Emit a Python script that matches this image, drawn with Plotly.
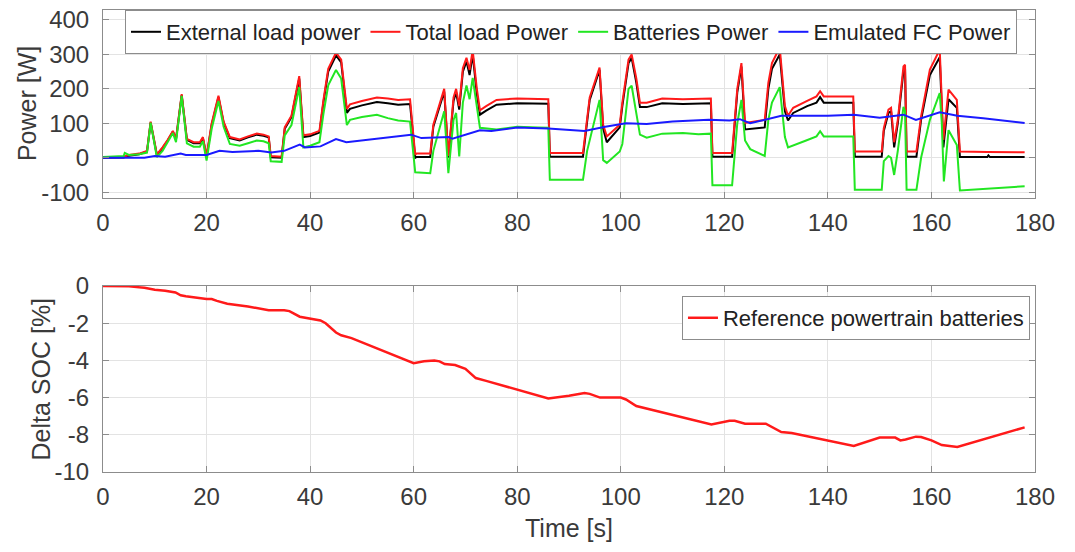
import plotly.graph_objects as go

# ---- Power profile (top panel) ----
# time stamps shared by the external-load and total-load traces [s]
t_load = [0, 4, 5, 7, 8.5, 9.2, 10.4, 11.5, 12.5, 13.5, 14.1, 15.2, 16.2, 17.5, 18.7, 19.3,
          20.0, 21.0, 22.3, 23.3, 24.5, 26.4, 28, 29.7, 31.0, 32.0, 32.4, 34.5, 35.1, 36.4,
          37.9, 38.7, 40, 41.8, 42.6, 43.5, 45.0, 46.0, 47.1, 47.7, 50, 52.9, 55, 57, 59.3,
          60.3, 60.5, 63.2, 63.8, 65.9, 66.7, 67.7, 68.2, 68.8, 69.5, 70.2, 70.8, 71.4, 72.2,
          72.8, 74, 76, 80, 84, 86.0, 86.3, 92.7, 94, 95.9, 96.6, 97.3, 99.8, 100.3, 101.5,
          102.1, 103.0, 103.7, 105, 108, 112, 115, 117.4, 117.7, 121.5, 122.5, 123.3, 124.0,
          127.8, 128.5, 129.2, 130.7, 131.7, 132.3, 133.3, 136, 137.8, 138.5, 139.2, 142,
          144.9, 145.2, 150.4, 150.8, 151.7, 152.2, 152.8, 153.5, 154.6, 154.9, 155.2, 157.1,
          158.0, 159.7, 161.6, 162.3, 163.3, 164.9, 165.5, 170.8, 171.0, 171.3, 178]

p_total = [2, 3, 8, 12, 20, 105, 10, 30, 52, 78, 55, 185, 55, 45, 45, 60,
           5, 100, 180, 105, 60, 53, 62, 70, 67, 62, 5, 3, 88, 122,
           237, 65, 68, 78, 170, 258, 305, 285, 142, 155, 165, 175, 172, 168, 170,
           8, 12, 12, 96, 200, 5, 175, 200, 150, 260, 290, 255, 312, 200,
           138, 150, 168, 172, 170, 170, 14, 14, 175, 262, 96, 62, 96, 160, 285,
           300, 230, 160, 160, 172, 170, 172, 172, 14, 14, 200, 275, 101,
           110, 217, 275, 320, 150, 122, 145, 165, 178, 193, 178, 178,
           178, 18, 18, 86, 140, 145, 45, 110, 265, 270, 18, 18,
           120, 256, 314, 52, 198, 168, 18, 17, 17, 17, 16]

p_external = [0, 1, 6, 10, 18, 102, 8, 28, 50, 76, 53, 182, 52, 42, 42, 57,
              2, 97, 176, 101, 57, 50, 59, 67, 64, 59, 1, 0, 84, 118,
              230, 60, 63, 73, 163, 250, 297, 277, 130, 142, 152, 162, 158, 154, 156,
              0, 2, 2, 90, 192, 0, 165, 190, 140, 250, 280, 240, 300, 185,
              125, 137, 154, 158, 156, 157, 3, 3, 168, 255, 85, 45, 88, 150, 275,
              290, 218, 147, 147, 158, 156, 158, 158, 3, 3, 190, 265, 82,
              88, 200, 258, 300, 135, 108, 130, 150, 160, 176, 160, 160,
              160, 3, 3, 78, 130, 135, 30, 100, 252, 258, 3, 3,
              110, 240, 292, 30, 170, 145, 2, 2, 7, 2, 2]

t_batt = [0, 4, 4.2, 5, 7, 8.5, 9.2, 10.4, 11.5, 12.5, 13.5, 14.1, 15.2, 16.2, 17.5, 18.7,
          19.3, 20, 21, 22.3, 23.3, 24.5, 26.4, 28, 29.7, 31, 32, 32.4, 34.5, 35.1, 36.4,
          37.9, 38.7, 40, 41.8, 42.6, 43.5, 45, 46, 47.1, 47.7, 50, 52.9, 55, 57, 59.3,
          60.3, 63.2, 63.8, 65.9, 66.7, 67.7, 68.2, 68.8, 69.5, 70.2, 70.8, 71.4, 72.2, 72.8,
          76, 80, 84, 86, 86.3, 92.7, 93.5, 95.9, 96.6, 97.3, 99.8, 100.3, 101.5, 102.1,
          103.7, 105, 108, 112, 115, 117.4, 117.7, 121.5, 122.5, 123.3, 124, 125, 127.8,
          128.5, 129.2, 130.7, 131.7, 132.3, 135.8, 137.8, 138.5, 139.2, 144.9, 145.2, 150.4,
          150.8, 151.7, 152.2, 152.8, 153.5, 154.6, 154.9, 155.2, 157.1, 158, 159.7, 161.6,
          162.0, 162.4, 163.3, 164.9, 165.5, 178]

p_batt = [2, 5, 14, 8, 10, 15, 102, 2, 20, 45, 72, 45, 180, 42, 32, 32,
          48, -8, 85, 165, 90, 40, 35, 42, 50, 48, 42, -10, -12, 65, 95,
          205, 30, 35, 45, 130, 210, 255, 230, 95, 110, 118, 125, 115, 108, 105,
          -42, -45, 20, 135, -45, 110, 130, 4, 160, 210, 170, 232, 140, 87,
          82, 90, 88, 87, -64, -64, 20, 168, -7, -15, 18, 40, 200, 209,
          67, 58, 70, 72, 68, 70, -80, -80, 100, 168, 50, 25, 5,
          110, 160, 205, 60, 30, 50, 62, 77, 62, 62, -93, -93,
          -10, 5, 0, -50, 20, 148, 135, -93, -93, 0, 110, 188,
          100, -69, 80, 37, -95, -83]

t_fc = [0, 8, 10, 12, 15, 16, 20, 22.5, 25, 30, 32.5, 35, 38, 39, 42, 45, 47, 50, 55,
        59.5, 61.5, 66.8, 67.5, 72.8, 75, 80, 86, 90, 93, 97, 101, 105, 110, 117, 121,
        123, 125, 131, 140, 145, 150, 154.6, 157, 161.6, 165, 170, 178]

p_fc = [0, 0, 5, 3, 12, 8, 8, 20, 17, 20, 15, 20, 38, 30, 33, 54, 45, 50, 60,
        67, 57, 60, 55, 80, 78, 88, 85, 82, 78, 90, 100, 98, 105, 110, 108,
        112, 100, 122, 122, 125, 116, 125, 110, 132, 122, 115, 101]

# ---- State of charge (bottom panel) ----
t_soc = [0, 5, 8, 10, 12, 14, 15, 16, 20, 21, 22, 24, 28, 32, 35, 36, 38, 40, 42, 43,
         45, 46, 48, 60, 62, 64, 65, 66, 68, 70, 72, 74, 86, 90, 93, 94, 96, 100, 101,
         103, 117.5, 121, 122, 124, 128, 131, 133, 145, 150, 153, 154, 155, 157, 158,
         160, 162, 165, 178]

delta_soc = [0, -0.02, -0.1, -0.2, -0.25, -0.35, -0.5, -0.55, -0.7, -0.7, -0.8, -0.95,
             -1.1, -1.3, -1.3, -1.35, -1.65, -1.75, -1.85, -2.0, -2.5, -2.65, -2.8, -4.15,
             -4.05, -4.0, -4.05, -4.2, -4.25, -4.45, -4.95, -5.1, -6.05, -5.9, -5.75, -5.8,
             -6.0, -6.0, -6.1, -6.45, -7.45, -7.25, -7.25, -7.4, -7.4, -7.85, -7.9, -8.6,
             -8.15, -8.15, -8.3, -8.25, -8.1, -8.12, -8.3, -8.55, -8.65, -7.6]

time_ticks = list(range(0, 181, 20))
power_ticks = [-100, 0, 100, 200, 300, 400]
soc_ticks = [-10, -8, -6, -4, -2, 0]

FONT = "Liberation Sans, Arial, Helvetica, sans-serif"
TXT = "#3a3a3a"
EDGE = "#8c8c8c"
GRID = "#e3e3e3"

fig = go.Figure()

power_traces = [
    ("External load power", t_load, p_external, "#000000"),
    ("Total load Power", t_load, p_total, "#ff1a1a"),
    ("Batteries Power", t_batt, p_batt, "#22e622"),
    ("Emulated FC Power", t_fc, p_fc, "#1a1aff"),
]
for name, tx, py, col in power_traces:
    fig.add_trace(go.Scatter(x=tx, y=py, mode="lines", name=name,
                             line=dict(color=col, width=2),
                             xaxis="x", yaxis="y", legend="legend"))

fig.add_trace(go.Scatter(x=t_soc, y=delta_soc, mode="lines",
                         name="Reference powertrain batteries",
                         line=dict(color="#ff1a1a", width=2.5),
                         xaxis="x2", yaxis="y2", legend="legend2"))

axis_common = dict(showline=True, linecolor=EDGE, linewidth=1, mirror="ticks",
                   ticks="inside", ticklen=6, tickcolor=EDGE, automargin=False,
                   showgrid=True, gridcolor=GRID, gridwidth=1, zeroline=False,
                   tickfont=dict(family=FONT, size=24, color=TXT))


def tick_text(vals):
    # plain hyphen for negative numbers
    return [str(v) for v in vals]


title_font = dict(family=FONT, size=25, color=TXT)

fig.update_layout(
    width=1075, height=552,
    margin=dict(l=103, r=40, t=10, b=80),
    paper_bgcolor="white", plot_bgcolor="white",
    font=dict(family=FONT, color=TXT),
    xaxis=dict(domain=[0, 1], range=[0, 180], tickvals=time_ticks,
               ticktext=tick_text(time_ticks), anchor="y",
               ticklabelstandoff=3, **axis_common),
    yaxis=dict(domain=[0.593, 1], range=[-117, 429], tickvals=power_ticks,
               ticktext=tick_text(power_ticks), anchor="x",
               ticklabelstandoff=8, **axis_common),
    xaxis2=dict(domain=[0, 1], range=[0, 180], tickvals=time_ticks,
                ticktext=tick_text(time_ticks), anchor="y2",
                ticklabelstandoff=3,
                title=dict(text="Time [s]", font=title_font, standoff=10),
                **axis_common),
    yaxis2=dict(domain=[0, 0.4026], range=[-10, 0], tickvals=soc_ticks,
                ticktext=tick_text(soc_ticks), anchor="x2",
                ticklabelstandoff=8, **axis_common),
    legend=dict(orientation="h", x=0.9807, xanchor="right", y=1.0, yanchor="top",
                bgcolor="white", bordercolor=EDGE, borderwidth=1,
                font=dict(family=FONT, size=22, color="#222"),
                itemwidth=30, tracegroupgap=0),
    legend2=dict(orientation="v", x=0.9946, xanchor="right", y=0.381, yanchor="top",
                 bgcolor="white", bordercolor=EDGE, borderwidth=1,
                 font=dict(family=FONT, size=22, color="#222"), itemwidth=30),
    showlegend=True,
)

# vertical axis titles, placed beside the tick labels of each panel
fig.add_annotation(text="Power [W]", textangle=-90, xref="paper", yref="y domain",
                   x=-0.0815, y=0.5, xanchor="center", yanchor="middle",
                   showarrow=False, font=title_font)
fig.add_annotation(text="Delta SOC [%]", textangle=-90, xref="paper", yref="y2 domain",
                   x=-0.066, y=0.5, xanchor="center", yanchor="middle",
                   showarrow=False, font=title_font)

fig.write_html("out.html")
